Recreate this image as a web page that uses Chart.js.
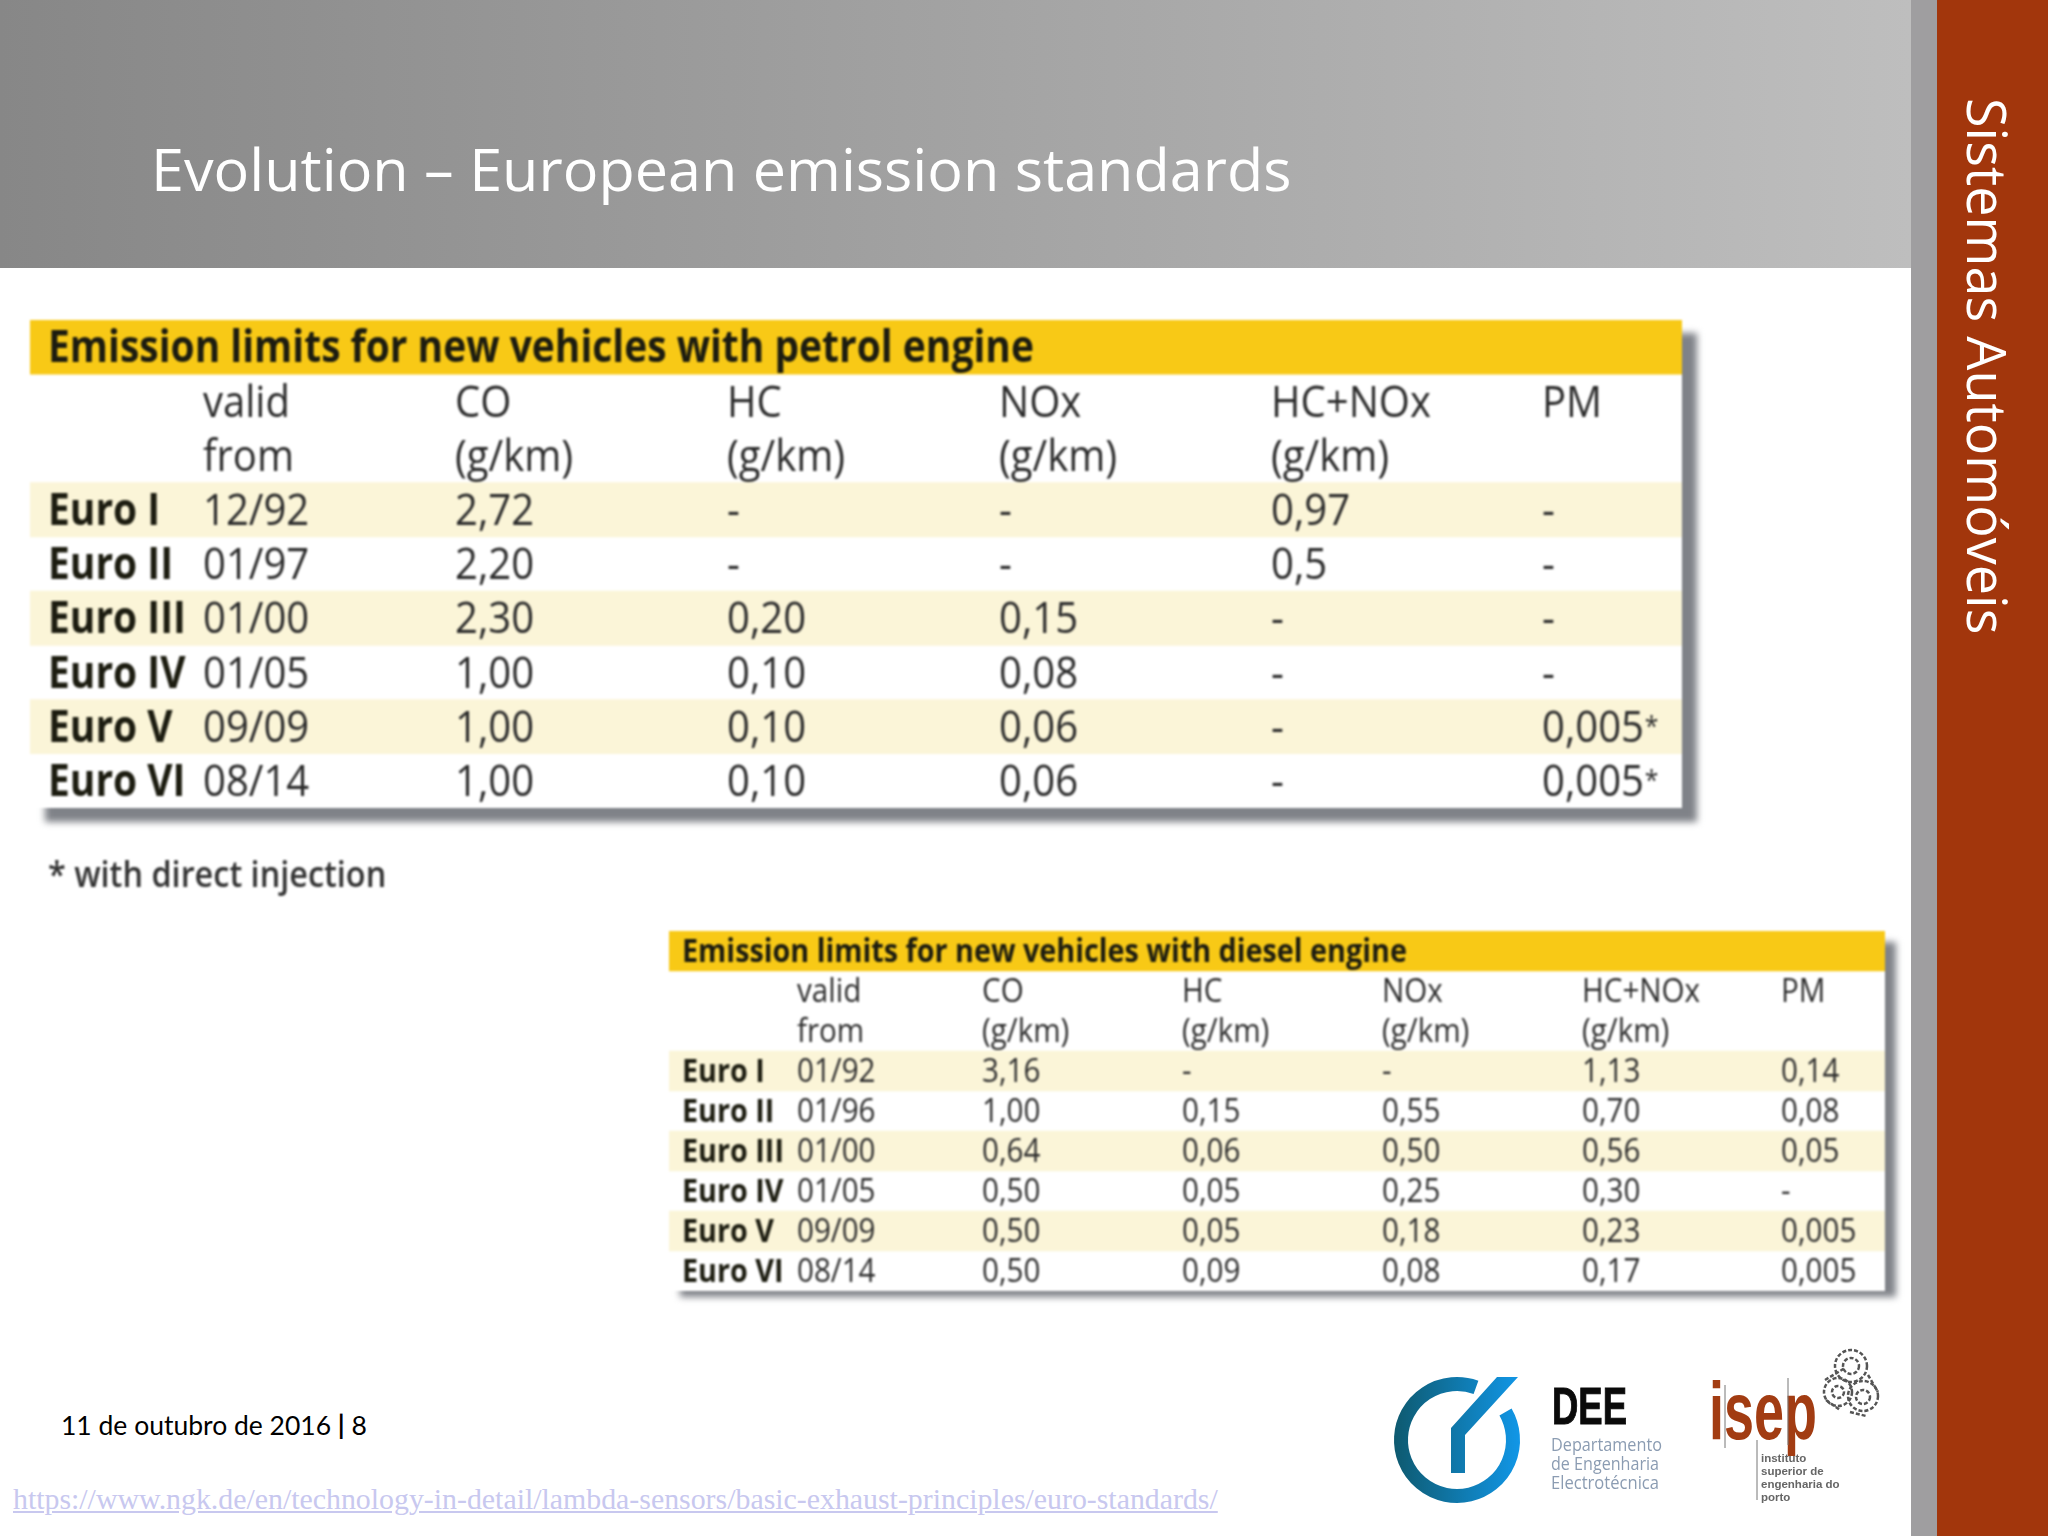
<![CDATA[<!DOCTYPE html>
<html><head><meta charset="utf-8">
<script src="https://cdn.jsdelivr.net/npm/chart.js@4/dist/chart.umd.min.js"></script>
<style>
html,body{margin:0;padding:0;background:#fff;width:2048px;height:1536px;overflow:hidden}
.abs{position:absolute;white-space:nowrap}
#head{left:0;top:0;width:1911px;height:268px;background:linear-gradient(90deg,#878787,#bebebe)}
#strip{left:1911px;top:0;width:26px;height:1536px;background:#9f9ea0}
#brick{left:1937px;top:0;width:111px;height:1536px;background:#a2360c}
#title{left:151px;top:126px;font:59.3px/84px "Open Sans";color:#fff}
#side{left:1958px;top:98px;writing-mode:vertical-rl;font:54px/60px "Open Sans";color:#fff}
.shadow{background:#7f8288;filter:blur(3.5px)}
canvas{position:absolute;filter:blur(.9px)}
#note{left:48px;top:852px;font:600 36px/44px "Open Sans";color:#333;filter:blur(.9px);transform-origin:0 50%;transform:scaleX(.9)}
#date{left:61px;top:1408px;font:26.5px/34px "Lato";color:#000}
#url{left:13px;top:1482px;font:29.85px/34px "Liberation Serif";color:#c8c8ef;text-decoration:underline}
svg{position:absolute;left:0;top:0;filter:blur(.6px)}
</style></head><body>
<div class="abs" id="head"></div>
<div class="abs" id="strip"></div>
<div class="abs" id="brick"></div>
<div class="abs" id="title">Evolution – European emission standards</div>
<div class="abs" id="side">Sistemas Automóveis</div>

<div class="abs shadow" style="left:45px;top:333px;width:1652px;height:489px"></div>
<canvas id="petrol" width="1652" height="488" style="left:30px;top:320px;background:#fff"></canvas>
<div class="abs" id="note">* with direct injection</div>

<div class="abs shadow" style="left:680px;top:942px;width:1216px;height:355px"></div>
<canvas id="diesel" width="1216" height="360" style="left:669px;top:931px;background:#fff"></canvas>

<div class="abs" id="date">11 de outubro de 2016 <b>|</b> 8</div>
<div class="abs" id="url">https://www.ngk.de/en/technology-in-detail/lambda-sensors/basic-exhaust-principles/euro-standards/</div>

<svg width="2048" height="1536" viewBox="0 0 2048 1536">
<defs><linearGradient id="g2" gradientUnits="userSpaceOnUse" x1="1395" x2="1519" y1="0" y2="0"><stop offset="0" stop-color="#0e5a70"/><stop offset="1" stop-color="#1196e6"/></linearGradient></defs>
<path d="M1476 1387.3 A56 56 0 1 0 1505.5 1412" fill="none" stroke="url(#g2)" stroke-width="14"/>
<path d="M1451 1473 H1465 V1435 L1518 1377 H1497 L1451 1428 Z" fill="url(#g2)"/>
<text x="1552" y="1424" font-family="Liberation Sans" font-weight="700" font-size="51" textLength="75" lengthAdjust="spacingAndGlyphs" fill="#0a0a0a" stroke="#0a0a0a" stroke-width="1">DEE</text>
<g font-family="Open Sans" font-size="17.5" fill="#8b9cb2">
<text x="1551" y="1451" textLength="111" lengthAdjust="spacingAndGlyphs">Departamento</text>
<text x="1551" y="1470" textLength="108" lengthAdjust="spacingAndGlyphs">de Engenharia</text>
<text x="1551" y="1489" textLength="108" lengthAdjust="spacingAndGlyphs">Electrotécnica</text>
</g>
<text x="1709" y="1439" font-family="Liberation Sans" font-weight="700" font-size="82" textLength="108" lengthAdjust="spacingAndGlyphs" fill="#a23c12">isep</text>
<path d="M1725 1385V1448M1757 1440V1500M1788 1378V1445" stroke="#777" stroke-width="1"/>
<g font-family="Liberation Sans" font-weight="700" font-size="11.5" fill="#666">
<text x="1761" y="1462">instituto</text><text x="1761" y="1475">superior de</text><text x="1761" y="1488">engenharia do</text><text x="1761" y="1501">porto</text>
</g>
<g fill="none" stroke="#555" stroke-width="2.5" stroke-dasharray="4 2">
<circle cx="1851" cy="1366" r="16"/><circle cx="1863" cy="1396" r="15"/><circle cx="1838" cy="1392" r="14"/><circle cx="1851" cy="1366" r="8"/><circle cx="1863" cy="1397" r="7"/><circle cx="1838" cy="1392" r="6"/>
<path d="M1825 1380L1845 1368M1868 1375L1878 1392M1850 1412L1866 1416M1826 1400L1840 1410"/>
</g>
</svg>

<script>
// ---- table data, read from the picture ----
const rowLabels = ['title','unit1','unit2','Euro I','Euro II','Euro III','Euro IV','Euro V','Euro VI'];
const euroRows = ['Euro I','Euro II','Euro III','Euro IV','Euro V','Euro VI'];
const headerLine1 = ['valid','CO','HC','NOx','HC+NOx','PM'];
const headerLine2 = ['from','(g/km)','(g/km)','(g/km)','(g/km)',''];

const petrolTitle = 'Emission limits for new vehicles with petrol engine';
const petrolValid = ['12/92','01/97','01/00','01/05','09/09','08/14'];
const petrolCO    = ['2,72','2,20','2,30','1,00','1,00','1,00'];
const petrolHC    = ['-','-','0,20','0,10','0,10','0,10'];
const petrolNOx   = ['-','-','0,15','0,08','0,06','0,06'];
const petrolHCNOx = ['0,97','0,5','-','-','-','-'];
const petrolPM    = ['-','-','-','-','0,005*','0,005*'];

const dieselTitle = 'Emission limits for new vehicles with diesel engine';
const dieselValid = ['01/92','01/96','01/00','01/05','09/09','08/14'];
const dieselCO    = ['3,16','1,00','0,64','0,50','0,50','0,50'];
const dieselHC    = ['-','0,15','0,06','0,05','0,05','0,09'];
const dieselNOx   = ['-','0,55','0,50','0,25','0,18','0,08'];
const dieselHCNOx = ['1,13','0,70','0,56','0,30','0,23','0,17'];
const dieselPM    = ['0,14','0,08','0,05','-','0,005','0,005'];

const YELLOW='#f8c916', PALE='#fbf5d8';
const rowFill = rowLabels.map((r,i)=> i===0?YELLOW : (i>=3 && i%2===1 ? PALE : 'rgba(0,0,0,0)'));

function tablePlugin(title, cols, colPos, size){
  return {id:'tableText', afterDatasetsDraw(chart){
    const {ctx,scales:{x,y}}=chart;
    const put=(t,cx,row,bold,sz,col,sx)=>{
      ctx.save();
      ctx.translate(x.getPixelForValue(cx),y.getPixelForValue(row)+size*0.06);
      ctx.scale(sx,1);
      ctx.font=(bold?'700 ':'400 ')+sz+'px "Open Sans"';
      ctx.fillStyle=col; ctx.textAlign='left'; ctx.textBaseline='middle';
      const star=t.endsWith('*');
      const body=star?t.slice(0,-1):t;
      ctx.fillText(body,0,0);
      if(star){
        const w=ctx.measureText(body).width;
        ctx.font='400 '+(sz*0.62)+'px "Open Sans"';
        ctx.fillText('*',w+1,-sz*0.03);
      }
      ctx.restore();
    };
    const DARK='#2c2c2c', BLACK='#1c1c10', SX=0.91, SB=0.885;
    put(title,colPos[0],0,true,size,BLACK,SB);
    headerLine1.forEach((t,c)=>put(t,colPos[c+1],1,false,size,DARK,SX));
    headerLine2.forEach((t,c)=>{ if(t) put(t,colPos[c+1],2,false,size,DARK,SX); });
    euroRows.forEach((r,i)=>{
      put(r,colPos[0],i+3,true,size,BLACK,SB);
      cols.forEach((arr,c)=>put(arr[i],colPos[c+1],i+3,false,size,DARK,SX));
    });
  }};
}
function makeTable(id,title,cols,colPos,size,width){
  new Chart(document.getElementById(id),{
    type:'bar',
    data:{labels:rowLabels,datasets:[{
      data:rowLabels.map(()=>[0,width]),
      backgroundColor:rowFill,borderWidth:0,
      barPercentage:1,categoryPercentage:1
    }]},
    options:{indexAxis:'y',responsive:false,animation:false,devicePixelRatio:1,
      layout:{padding:0},
      plugins:{legend:{display:false},tooltip:{enabled:false}},
      scales:{x:{type:'linear',min:0,max:width,display:false},
              y:{type:'category',display:false}}},
    plugins:[tablePlugin(title,cols,colPos,size)]
  });
}
makeTable('petrol',petrolTitle,[petrolValid,petrolCO,petrolHC,petrolNOx,petrolHCNOx,petrolPM],
  [18,173,425,697,969,1241,1512],44,1652);
makeTable('diesel',dieselTitle,[dieselValid,dieselCO,dieselHC,dieselNOx,dieselHCNOx,dieselPM],
  [13,128,313,513,713,913,1112],32.5,1216);
</script>
</body></html>]]>
